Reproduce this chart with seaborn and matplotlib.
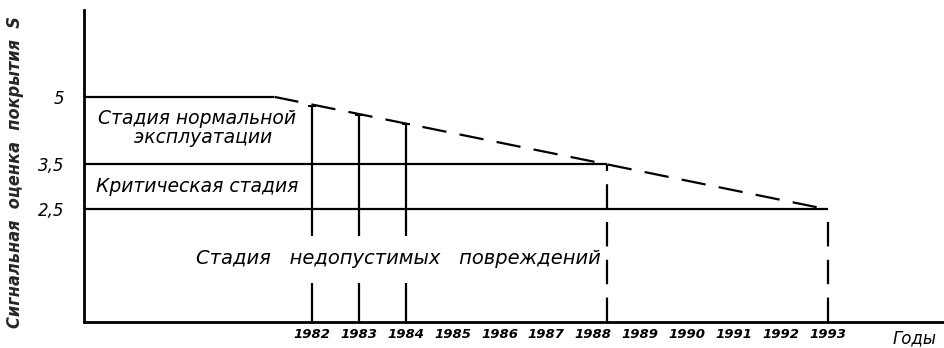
import matplotlib
matplotlib.use("Agg")
import matplotlib.pyplot as plt
import seaborn as sns
import pandas as pd

# Stage boundaries of the signal score S
stage_levels = [5.0, 3.5, 2.5]
stage_level_labels = ["5", "3,5", "2,5"]

# Forecast of the coating score (dashed trend) and where it crosses each boundary
trend_years = [1981.2, 1988.3, 1993.0]
trend_scores = [5.0, 3.5, 2.5]

# Inspection years and the score read from the trend at each one
inspection_years = [1982, 1983, 1984]
inspection_scores = [4.8, 4.6, 4.4]

# Year axis
tick_years = [1982, 1983, 1984, 1985, 1986, 1987, 1988, 1989, 1990, 1991, 1992, 1993]
tick_labels = [str(y) for y in tick_years]

X_MIN, X_MAX = 1977.14, 1995.5
Y_MIN, Y_MAX = 0.0, 6.93

sns.set_style("white")
plt.rcParams["font.family"] = ["DejaVu Sans"]

fig = plt.figure(figsize=(9.45, 3.48), dpi=100)
ax = fig.add_axes([84 / 945, 1 - 322 / 348, 1 - 84 / 945, (322 - 10) / 348])

ink = "black"
lw = 1.6
dash = (0, (11, 6))

# Dashed forecast line
trend = pd.DataFrame({"year": trend_years, "score": trend_scores})
sns.lineplot(data=trend, x="year", y="score", ax=ax, color=ink, lw=lw,
             dashes=False, linestyle=dash)

# Initial solid level before the forecast begins
ax.hlines(trend_scores[0], X_MIN, trend_years[0], color=ink, lw=lw)

# Stage boundaries at 3.5 and 2.5, running to their crossing years
ax.hlines(stage_levels[1], X_MIN, trend_years[1], color=ink, lw=lw)
ax.hlines(stage_levels[2], X_MIN, trend_years[2], color=ink, lw=lw)

# Inspection verticals, broken around the bottom stage caption
gap_top, gap_bottom = 1.9, 0.87
ax.vlines(inspection_years, [gap_top] * 3, inspection_scores, color=ink, lw=lw)
ax.vlines(inspection_years, 0, gap_bottom, color=ink, lw=lw)
sns.scatterplot(x=inspection_years, y=inspection_scores, ax=ax, marker="_",
                s=40, color=ink, linewidth=1.4, legend=False)

# Dashed drops at the boundary crossing years
ax.vlines(trend_years[1], 0, trend_scores[1], color=ink, lw=lw, linestyle=dash)
ax.vlines(trend_years[2], 0, trend_scores[2], color=ink, lw=lw, linestyle=dash)

# Stage captions
cap = dict(fontsize=13.5, style="italic", color=ink)
ax.text(1979.55, 4.3, "Стадия нормальной\n  эксплуатации", ha="center", va="center",
        linespacing=1.0, **cap)
ax.text(1979.55, 3.0, "Критическая стадия", ha="center", va="center", **cap)
ax.text(1983.85, 1.42, "Стадия   недопустимых   повреждений", ha="center", va="center",
        fontsize=14, style="italic", color=ink)

# Axes styling
ax.set_xlim(X_MIN, X_MAX)
ax.set_ylim(Y_MIN, Y_MAX)
ax.set_xticks(tick_years)
ax.set_xticklabels(tick_labels, fontsize=9.5, style="italic", fontweight="semibold")
ax.set_yticks(stage_levels)
ax.set_yticklabels(stage_level_labels, fontsize=12, style="italic")
ax.tick_params(axis="x", length=3, width=1.2, direction="inout", pad=3, colors=ink)
ax.tick_params(axis="y", length=0, pad=14, colors=ink)
ax.set_xlabel("")
ax.set_ylabel("Сигнальная  оценка  покрытия  S", fontsize=13, style="italic",
              fontweight="heavy", fontstretch="condensed")
ax.yaxis.set_label_coords(-0.07, 0.48)

for side in ("top", "right"):
    ax.spines[side].set_visible(False)
for side in ("left", "bottom"):
    ax.spines[side].set_color(ink)
    ax.spines[side].set_linewidth(2.0)

ax.text(1994.85, -0.36, "Годы", fontsize=12, style="italic", ha="center", va="center",
        color=ink)

fig.savefig("out.png", dpi=100, facecolor="white")
